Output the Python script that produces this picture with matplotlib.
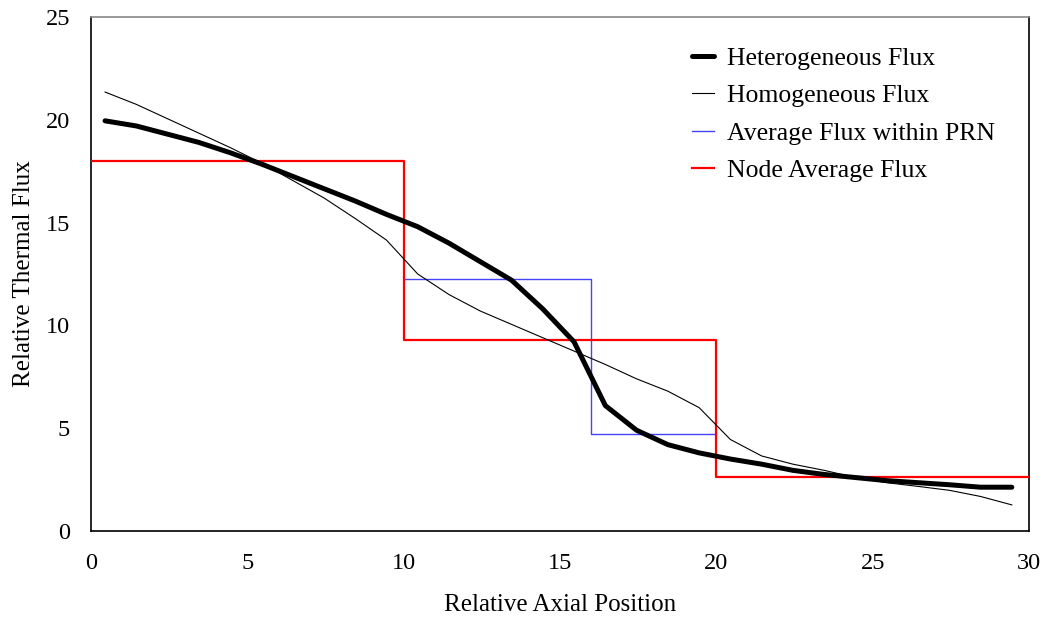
import matplotlib
matplotlib.use("Agg")
import matplotlib.pyplot as plt

plt.rcParams['font.family'] = ['Liberation Serif', 'DejaVu Serif']

# axial positions of the flux points
axial = [0.45, 1.45, 2.45, 3.45, 4.45, 5.45, 6.45, 7.45, 8.45, 9.45,
         10.45, 11.45, 12.45, 13.45, 14.45, 15.45, 16.45, 17.45, 18.45, 19.45,
         20.45, 21.45, 22.45, 23.45, 24.45, 25.45, 26.45, 27.45, 28.45, 29.45]

hetero_flux = [19.95, 19.7, 19.3, 18.9, 18.4, 17.85, 17.25, 16.65, 16.05, 15.4,
               14.8, 14.0, 13.1, 12.2, 10.8, 9.2, 6.1, 4.9, 4.2, 3.8,
               3.5, 3.25, 2.95, 2.75, 2.6, 2.45, 2.35, 2.25, 2.13, 2.13]

homo_flux = [21.35, 20.75, 20.05, 19.35, 18.65, 17.9, 17.05, 16.2, 15.2, 14.15,
             12.5, 11.5, 10.7, 10.05, 9.4, 8.75, 8.1, 7.4, 6.8, 6.0,
             4.45, 3.65, 3.25, 2.95, 2.6, 2.35, 2.17, 1.98, 1.68, 1.27]

# step averages
prn_x = [10, 16, 16, 20]
prn_y = [12.24, 12.24, 4.73, 4.73]

node_x = [0, 10, 10, 20, 20, 30]
node_y = [18.0, 18.0, 9.27, 9.27, 2.64, 2.64]

fig = plt.figure(figsize=(10.53, 6.24), dpi=100)
ax = fig.add_axes([91/1053, 1 - 531/624, 938/1053, 514/624])

ax.plot(prn_x, prn_y, color='#4444ff', lw=1.0, label='Average Flux within PRN', zorder=2)
ax.plot(node_x, node_y, color='red', lw=1.6, label='Node Average Flux', zorder=3)
ax.plot(axial, homo_flux, color='black', lw=0.8, label='Homogeneous Flux', zorder=4)
ax.plot(axial, hetero_flux, color='black', lw=3.6, label='Heterogeneous Flux', zorder=5,
        solid_capstyle='round', solid_joinstyle='round')

ax.set_xlim(0, 30)
ax.set_ylim(0, 25)
ax.set_xticks([0, 5, 10, 15, 20, 25, 30])
ax.set_yticks([0, 5, 10, 15, 20, 25])
ax.tick_params(axis='x', length=0, pad=16, labelsize=17.5)
ax.tick_params(axis='y', length=0, pad=15, labelsize=17.5)

ax.spines['top'].set_color('#888888')
for s in ax.spines.values():
    s.set_linewidth(1.2)

ax.set_xlabel('Relative Axial Position', fontsize=18, labelpad=14)
ax.set_ylabel('Relative Thermal Flux', fontsize=18, labelpad=8)

handles, labels = ax.get_legend_handles_labels()
order = [3, 2, 0, 1]
ax.legend([handles[i] for i in order], [labels[i] for i in order],
          loc='upper right', bbox_to_anchor=(0.988, 0.986), frameon=False,
          fontsize=18.5, handlelength=0.85, handletextpad=0.5, labelspacing=0.55)

plt.savefig('out.png', dpi=100)
